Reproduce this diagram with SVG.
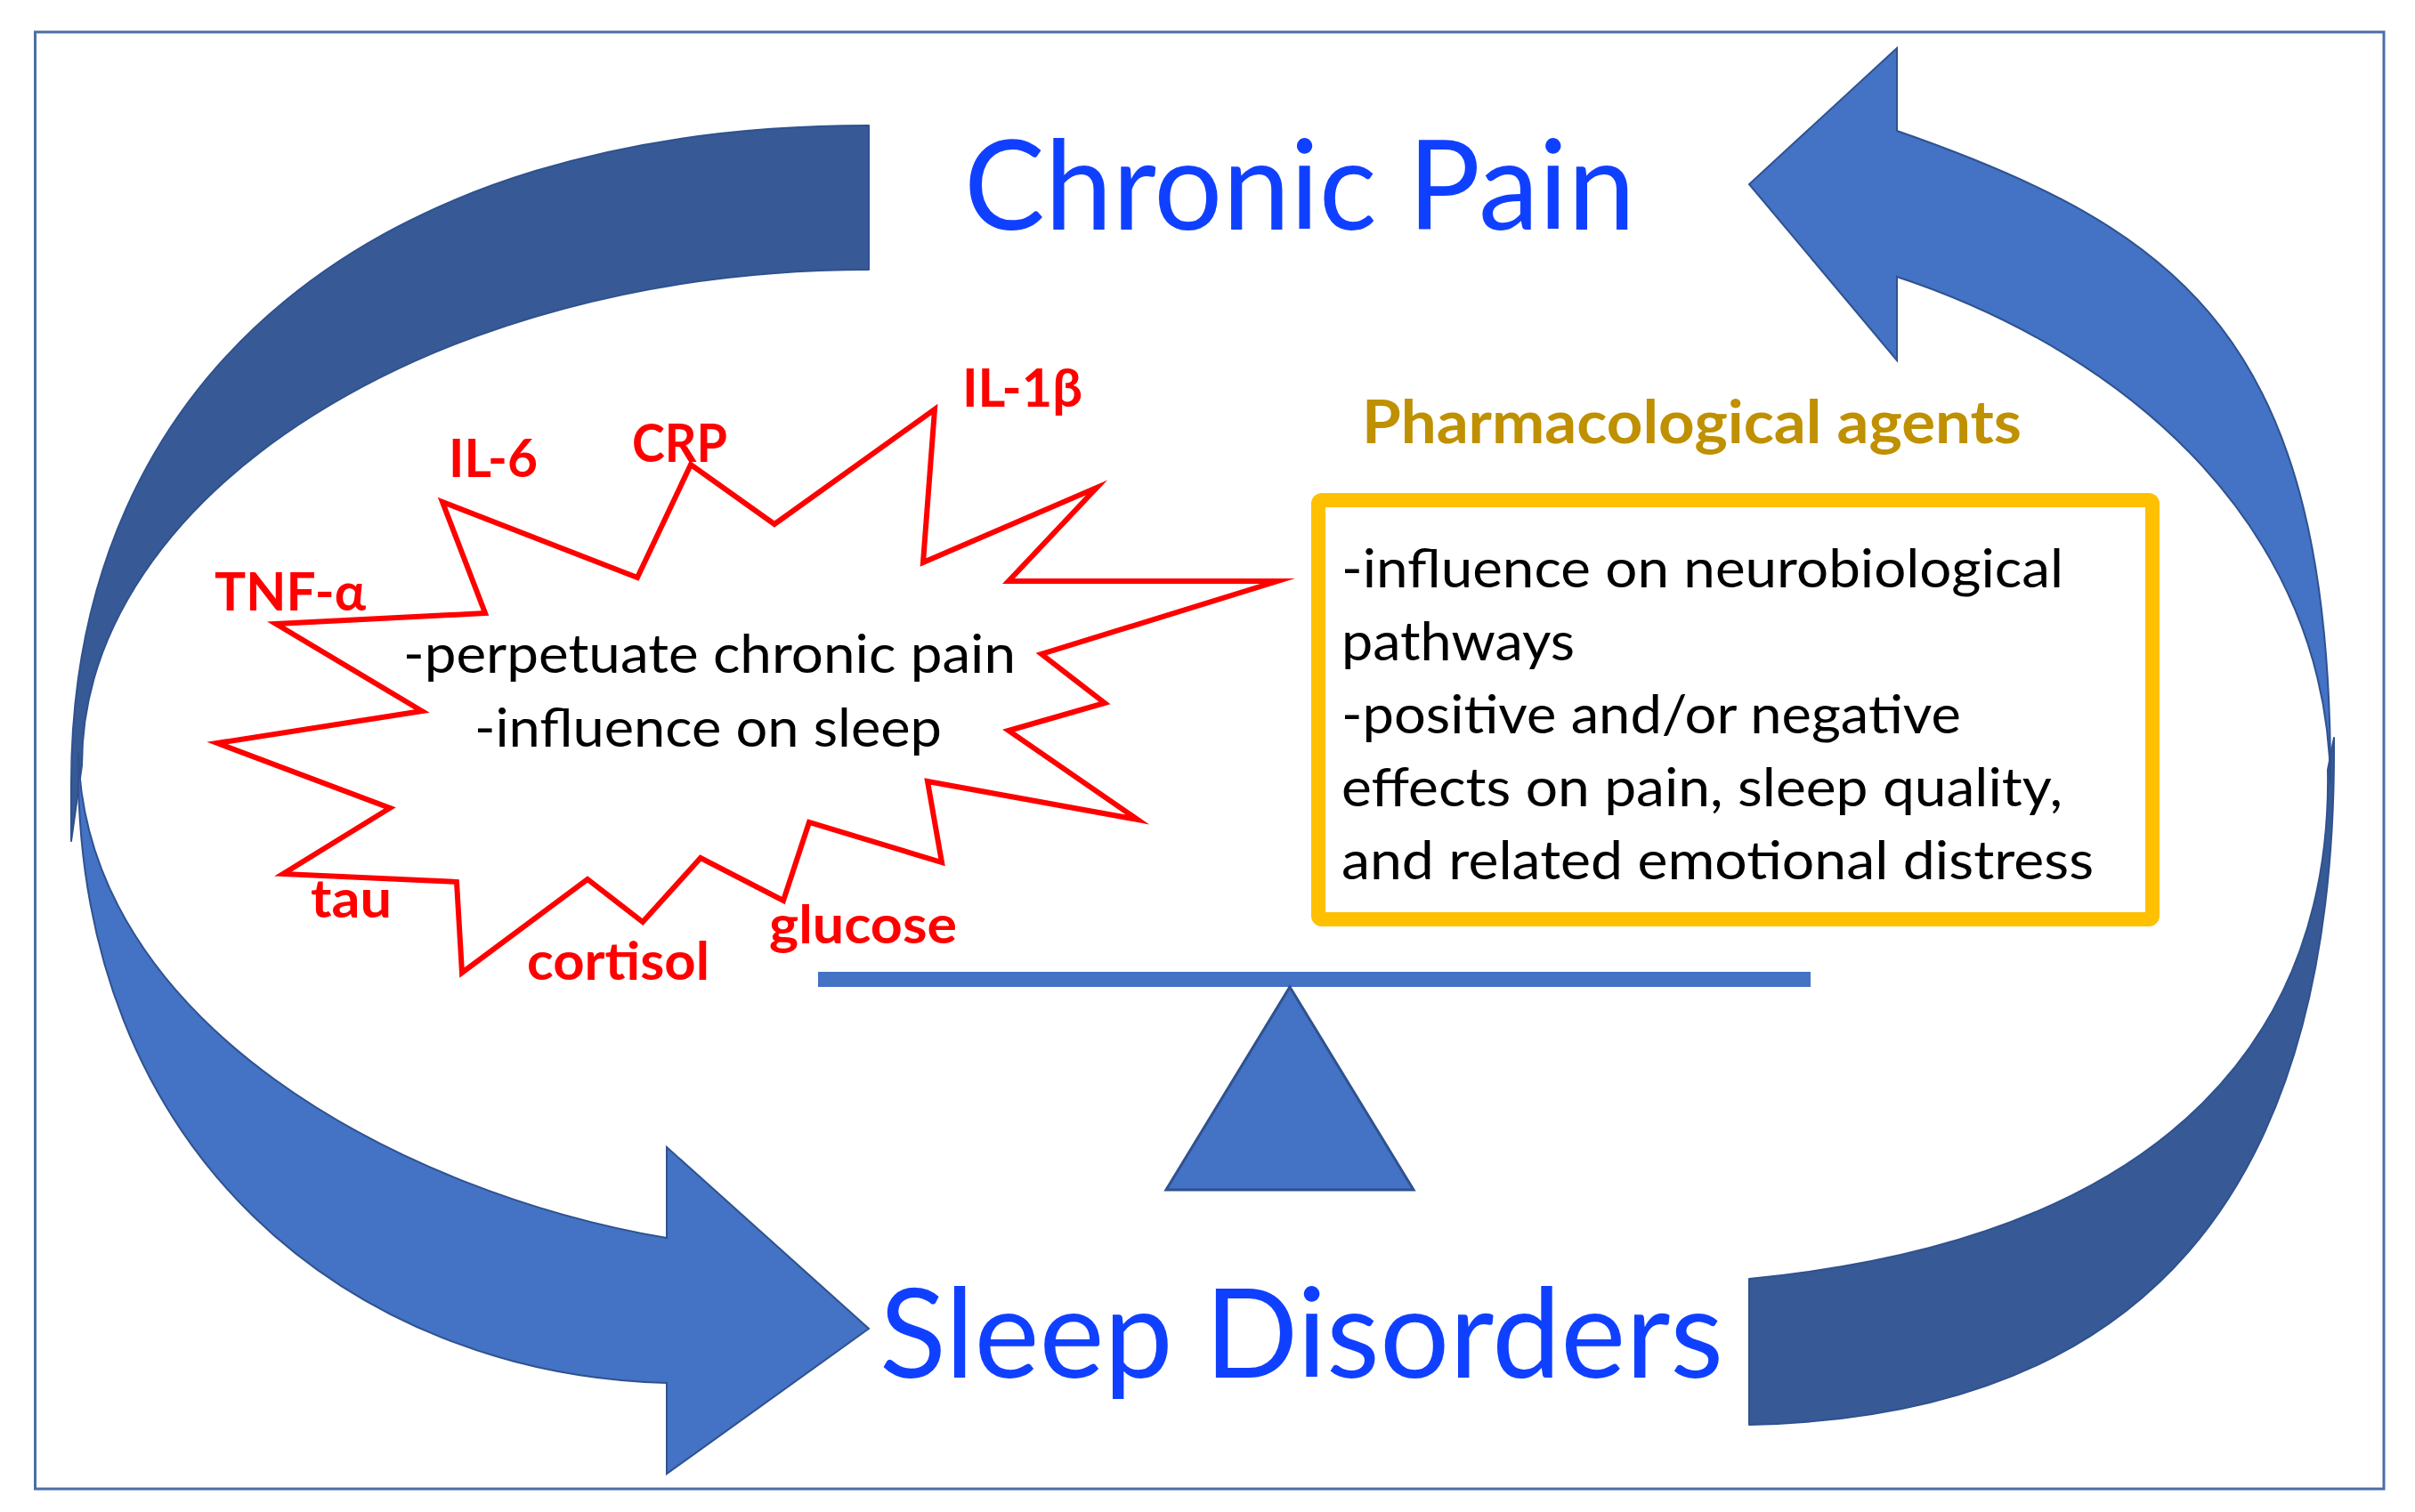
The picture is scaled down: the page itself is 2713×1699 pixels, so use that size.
<svg xmlns="http://www.w3.org/2000/svg" width="2713" height="1699" viewBox="0 0 2713 1699">
<style>
.frame{fill:#fff;stroke:#4a6fa5;stroke-width:3}
.band-dark{fill:#375a96;stroke:#2f528f;stroke-width:2;stroke-linejoin:round}
.band-light{fill:#4472c4;stroke:#2f528f;stroke-width:2;stroke-linejoin:miter}
.title{font-family:Lato,"Liberation Sans",sans-serif;font-size:140px;fill:#1040ff}
.body{font-family:Lato,"Liberation Sans",sans-serif;font-size:60px;fill:#000}
.marker{font-family:Lato,"Liberation Sans",sans-serif;font-weight:700;font-size:60px;fill:#ff0000}
.pharm{font-family:Lato,"Liberation Sans",sans-serif;font-weight:700;font-size:66px;fill:#bf9000}
.burst{fill:#fff;stroke:#ff0000;stroke-width:6;stroke-linejoin:miter;stroke-miterlimit:10}
.box{fill:#fff;stroke:#ffc000;stroke-width:16}
.beam{fill:#4472c4}
.fulcrum{fill:#4472c4;stroke:#2f528f;stroke-width:3}
</style>
<rect class="frame" x="39.5" y="36" width="2638.5" height="1637"/>

<g id="connectors">
  <path id="arrow-pain-to-sleep-back" class="band-dark" d="M976,141 C420,141 80,422 80,880 L80,945 L92,860 C92,554 490,303 976,303 Z"/>
  <path id="arrow-sleep-to-pain-back" class="band-dark" d="M1965,1437 C2450,1390 2620,1150 2615,865 L2622,829 C2626,1350 2400,1592 1965,1601 Z"/>
  <path id="arrow-pain-to-sleep" class="band-light" d="M88,845 C80,1300 400,1545 749,1554 L749,1656 L976,1493 L749,1289 L749,1391 C450,1340 95,1150 88,845 Z"/>
  <path id="arrow-sleep-to-pain" class="band-light" d="M2131,147 C2450,258 2620,380 2618,880 C2615,600 2400,400 2131,311 L2131,405 L1965,207 L2131,54 Z"/>
</g>

<g id="chronic-pain">
  <text class="title" x="1083" y="258" textLength="754" lengthAdjust="spacingAndGlyphs">Chronic Pain</text>
</g>

<g id="sleep-disorders">
  <text class="title" x="988" y="1548" textLength="948" lengthAdjust="spacingAndGlyphs">Sleep Disorders</text>
</g>

<g id="biomarkers">
  <polygon class="burst" points="497,564 716,649 776,522 870,589 1050,460 1037,632 1232,548 1133,653 1435,653 1170,735 1241,790 1133,821 1278,921 1042,878 1058,969 909,924 880,1012 787,964 722,1036 660,988 519,1093 513,991 318,982 438,908 244,835 474,799 310,701 545,689"/>
  <text class="body" x="453" y="756" textLength="688" lengthAdjust="spacingAndGlyphs">-perpetuate chronic pain</text>
  <text class="body" x="533" y="839" textLength="525" lengthAdjust="spacingAndGlyphs">-influence on sleep</text>
  <text class="marker" x="504" y="536" textLength="100" lengthAdjust="spacingAndGlyphs">IL-6</text>
  <text class="marker" x="710" y="519" textLength="107" lengthAdjust="spacingAndGlyphs">CRP</text>
  <text class="marker" x="1081" y="457" textLength="135" lengthAdjust="spacingAndGlyphs">IL-1β</text>
  <text class="marker" x="241" y="686" textLength="170" lengthAdjust="spacingAndGlyphs">TNF-α</text>
  <text class="marker" x="349" y="1031" textLength="91" lengthAdjust="spacingAndGlyphs">tau</text>
  <text class="marker" x="592" y="1101" textLength="205" lengthAdjust="spacingAndGlyphs">cortisol</text>
  <text class="marker" x="864" y="1060" textLength="211" lengthAdjust="spacingAndGlyphs">glucose</text>
</g>

<g id="pharmacological-agents">
  <text class="pharm" x="1530" y="498" textLength="741" lengthAdjust="spacingAndGlyphs">Pharmacological agents</text>
  <rect class="box" x="1481" y="562" width="937" height="471" rx="4"/>
  <text class="body" x="1507" y="660" textLength="811" lengthAdjust="spacingAndGlyphs">-influence on neurobiological</text>
  <text class="body" x="1507" y="742" textLength="262" lengthAdjust="spacingAndGlyphs">pathways</text>
  <text class="body" x="1507" y="824" textLength="696" lengthAdjust="spacingAndGlyphs">-positive and/or negative</text>
  <text class="body" x="1507" y="906" textLength="810" lengthAdjust="spacingAndGlyphs">effects on pain, sleep quality,</text>
  <text class="body" x="1507" y="988" textLength="845" lengthAdjust="spacingAndGlyphs">and related emotional distress</text>
</g>

<g id="balance">
  <rect class="beam" x="919" y="1092" width="1115" height="17"/>
  <polygon class="fulcrum" points="1449,1109 1588,1337 1310,1337"/>
</g>
</svg>
